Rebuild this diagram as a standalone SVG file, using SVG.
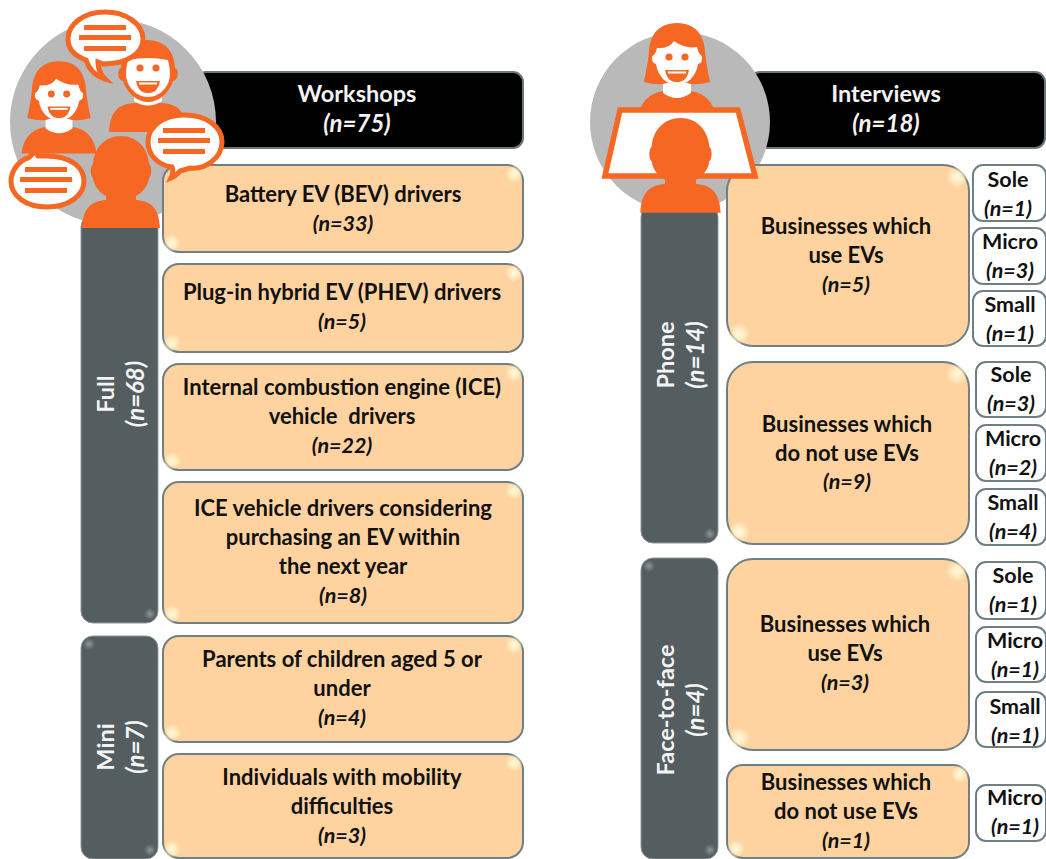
<svg xmlns="http://www.w3.org/2000/svg" xmlns:xlink="http://www.w3.org/1999/xlink" width="1046" height="859" viewBox="0 0 1046 859">
<style>
text{font-family:"Lato","Liberation Sans",sans-serif;font-weight:700;font-size:22px;text-anchor:middle;fill:#111}
.i{font-style:italic;font-size:21.500px}
.s{font-size:21.500px}
text.w{fill:#f4f4f4;font-size:23.500px}
text.i.w{font-size:24px}
.w{fill:#fff}
.peach{fill:#fed3a0;stroke:#6f7f83;stroke-width:2}
.grey{fill:#545e61;stroke:#8d9799;stroke-width:1}
.head{fill:#000;stroke:#6b777c;stroke-width:2}
.small{fill:#fff;stroke:#6f7f83;stroke-width:2}
.o{fill:#f56722}
.bub{fill:#fff;stroke:#f56722;stroke-width:5}
.disc{fill:#b9b9b9}
.g{fill:url(#glow)}
.gg{fill:url(#gglow)}
</style>
<defs>
<radialGradient id="glow"><stop offset="0" stop-color="#fffbe0"/><stop offset=".45" stop-color="#fff4cc" stop-opacity=".8"/><stop offset="1" stop-color="#fff4cc" stop-opacity="0"/></radialGradient>
<radialGradient id="gglow"><stop offset="0" stop-color="#8d9799"/><stop offset="1" stop-color="#8d9799" stop-opacity="0"/></radialGradient>
<g id="woman">
<path class="o" d="M-39 62C-37 44-27 36-13 34H13C27 36 37 44 39 62Z"/>
<path class="w" d="M-14 26H14V36Q0 46-14 36Z"/>
<path class="o" d="M0 -34C-20 -34-27 -20-28 -6C-29 6-31 14-33 25Q-18 29-10 26H10Q18 29 33 25C31 14 29 6 28 -6C27 -20 20 -34 0 -34Z"/>
<path class="w" d="M-20 -9Q-8 -8-3 -16Q8 -8 20 -10Q22 -2 25 -1Q26 6 21 7C19 20 10 28 0 28C-10 28-19 20-21 7C-26 6-26 -2-23 -2Q-21 -4-20 -9Z"/>
<circle class="o" cx="-8" cy="0" r="3.600"/><circle class="o" cx="8" cy="0" r="3.600"/>
<path class="o" d="M-12 13H12C10 24 4 25 0 25C-4 25-10 24-12 13Z"/>
<path class="w" d="M-9 14.500H9V16.500H-9Z"/>
</g>
<g id="man">
<path class="o" d="M-39 64C-38 44-30 36-14 35H14C30 36 38 44 39 64Z"/>
<path class="w" d="M-14 26H14V33Q0 42-14 33Z"/>
<path class="o" d="M0 -28C-18 -28-27 -14-27 0C-31 1-31 12-25 13C-21 26-10 34 0 34C10 34 21 26 25 13C31 12 31 1 27 0C27 -14 18 -28 0 -28Z"/>
<path class="w" d="M-20 -8Q0 -12 20 -8Q22 0 22 6C22 18 12 29 0 29C-12 29-22 18-22 6Q-22 0-20 -8Z"/>
<circle class="o" cx="-8" cy="0" r="3.600"/><circle class="o" cx="8" cy="0" r="3.600"/>
<path class="o" d="M-12 13H12C10 24 4 25 0 25C-4 25-10 24-12 13Z"/>
<path class="w" d="M-9 14.500H9V16.500H-9Z"/>
</g>
<g id="sil">
<path class="o" d="M0 0C-16 0-27 12-28 28C-31 30-31 40-28 42C-27 50-22 56-15 60V64C-30 65-38 72-39 92H39C38 72 30 65 15 64V60C22 56 27 50 28 42C31 40 31 30 28 28C27 12 16 0 0 0Z"/>
</g>
<g id="lines">
<path class="o" d="M-21 -13H21V-8H-21ZM-26 -3H26V2H-26ZM-21 8H21V13H-21Z"/>
</g>
</defs>
<g id="connectors"/>
<g id="workshops-head"><rect class="head" x="196" y="72" width="327" height="76" rx="10"/><text class="w" x="357" y="102">Workshops</text><text class="w i" x="357" y="132">(n=75)</text></g>
<g id="interviews-head"><rect class="head" x="750" y="72" width="295" height="76" rx="10"/><text class="w" x="886" y="102">Interviews</text><text class="w i" x="886" y="132">(n=18)</text></g>
<circle id="workshops-disc" class="disc" cx="113" cy="122" r="103"/>
<circle id="interviews-disc" class="disc" cx="680" cy="122" r="90"/>
<g id="full"><rect class="grey" x="81" y="215" width="77" height="408" rx="12"/><circle class="gg" cx="150" cy="614" r="6"/><text class="w" transform="translate(114,394) rotate(-90)">Full</text><text class="w i" transform="translate(144,394) rotate(-90)">(n=68)</text></g>
<g id="mini"><rect class="grey" x="81" y="636" width="77" height="223" rx="12"/><circle class="gg" cx="89" cy="644" r="6"/><circle class="gg" cx="150" cy="850" r="6"/><text class="w" transform="translate(114,747) rotate(-90)">Mini</text><text class="w i" transform="translate(144,747) rotate(-90)">(n=7)</text></g>
<g id="phone"><rect class="grey" x="641" y="205" width="77" height="338" rx="12"/><circle class="gg" cx="710" cy="534" r="6"/><text class="w" transform="translate(674,355) rotate(-90)">Phone</text><text class="w i" transform="translate(704,355) rotate(-90)">(n=14)</text></g>
<g id="f2f"><rect class="grey" x="641" y="558" width="77" height="301" rx="12"/><circle class="gg" cx="649" cy="566" r="6"/><circle class="gg" cx="710" cy="850" r="6"/><text class="w" transform="translate(674,710) rotate(-90)">Face-to-face</text><text class="w i" transform="translate(704,710) rotate(-90)">(n=4)</text></g>
<g id="bev"><rect class="peach" x="163" y="165" width="360" height="87" rx="16"/><circle class="g" cx="172" cy="243" r="9"/><circle class="g" cx="514" cy="174" r="9"/><text x="343" y="202">Battery EV (BEV) drivers</text><text class="i" x="343" y="231">(n=33)</text></g>
<g id="phev"><rect class="peach" x="163" y="264" width="360" height="88" rx="16"/><circle class="g" cx="172" cy="343" r="9"/><circle class="g" cx="514" cy="273" r="9"/><text x="342" y="300">Plug-in hybrid EV (PHEV) drivers</text><text class="i" x="342" y="329">(n=5)</text></g>
<g id="ice"><rect class="peach" x="163" y="364" width="360" height="106" rx="16"/><circle class="g" cx="172" cy="461" r="9"/><circle class="g" cx="514" cy="373" r="9"/><text x="342" y="395">Internal combustion engine (ICE)</text><text x="342" y="424" xml:space="preserve">vehicle  drivers</text><text class="i" x="342" y="453">(n=22)</text></g>
<g id="ice2"><rect class="peach" x="163" y="482" width="360" height="141" rx="16"/><circle class="g" cx="172" cy="614" r="9"/><circle class="g" cx="514" cy="491" r="9"/><text x="343" y="516">ICE vehicle drivers considering</text><text x="343" y="545">purchasing an EV within</text><text x="343" y="574">the next year</text><text class="i" x="343" y="603">(n=8)</text></g>
<g id="parents"><rect class="peach" x="163" y="636" width="360" height="106" rx="16"/><circle class="g" cx="172" cy="733" r="9"/><circle class="g" cx="514" cy="645" r="9"/><text x="342" y="667">Parents of children aged 5 or</text><text x="342" y="696">under</text><text class="i" x="342" y="725">(n=4)</text></g>
<g id="mobility"><rect class="peach" x="163" y="754" width="360" height="104" rx="16"/><circle class="g" cx="172" cy="849" r="9"/><circle class="g" cx="514" cy="763" r="9"/><text x="342" y="785">Individuals with mobility</text><text x="342" y="814">difficulties</text><text class="i" x="342" y="843">(n=3)</text></g>
<g id="p-use"><rect class="peach" x="727" y="165" width="242" height="181" rx="26"/><circle class="g" cx="739" cy="334" r="11"/><circle class="g" cx="957" cy="177" r="11"/><text x="846" y="234">Businesses which</text><text x="846" y="263">use EVs</text><text class="i" x="846" y="292">(n=5)</text></g>
<g id="p-not"><rect class="peach" x="727" y="362" width="242" height="182" rx="26"/><circle class="g" cx="739" cy="532" r="11"/><circle class="g" cx="957" cy="374" r="11"/><text x="847" y="432">Businesses which</text><text x="847" y="461">do not use EVs</text><text class="i" x="847" y="489">(n=9)</text></g>
<g id="f-use"><rect class="peach" x="727" y="559" width="242" height="191" rx="26"/><circle class="g" cx="739" cy="738" r="11"/><circle class="g" cx="957" cy="571" r="11"/><text x="845" y="632">Businesses which</text><text x="845" y="661">use EVs</text><text class="i" x="845" y="690">(n=3)</text></g>
<g id="f-not"><rect class="peach" x="727" y="765" width="242" height="93" rx="16"/><circle class="g" cx="736" cy="849" r="9"/><circle class="g" cx="960" cy="774" r="9"/><text x="846" y="790">Businesses which</text><text x="846" y="819">do not use EVs</text><text class="i" x="846" y="848">(n=1)</text></g>
<g id="s1"><rect class="small" x="973" y="165" width="73" height="56" rx="10"/><text class="s" x="1008" y="187">Sole</text><text class="i" x="1008" y="216">(n=1)</text></g>
<g id="s2"><rect class="small" x="973" y="228" width="73" height="56" rx="10"/><text class="s" x="1010" y="249">Micro</text><text class="i" x="1010" y="278">(n=3)</text></g>
<g id="s3"><rect class="small" x="973" y="291" width="73" height="55" rx="10"/><text class="s" x="1010" y="312">Small</text><text class="i" x="1010" y="341">(n=1)</text></g>
<g id="s4"><rect class="small" x="976" y="362" width="70" height="55" rx="10"/><text class="s" x="1011" y="382">Sole</text><text class="i" x="1011" y="411">(n=3)</text></g>
<g id="s5"><rect class="small" x="976" y="425" width="70" height="56" rx="10"/><text class="s" x="1013" y="446">Micro</text><text class="i" x="1013" y="475">(n=2)</text></g>
<g id="s6"><rect class="small" x="976" y="489" width="70" height="56" rx="10"/><text class="s" x="1013" y="510">Small</text><text class="i" x="1013" y="539">(n=4)</text></g>
<g id="s7"><rect class="small" x="976" y="562" width="70" height="57" rx="10"/><text class="s" x="1013" y="583">Sole</text><text class="i" x="1013" y="612">(n=1)</text></g>
<g id="s8"><rect class="small" x="976" y="627" width="70" height="55" rx="10"/><text class="s" x="1015" y="648">Micro</text><text class="i" x="1015" y="677">(n=1)</text></g>
<g id="s9"><rect class="small" x="976" y="692" width="70" height="55" rx="10"/><text class="s" x="1015" y="714">Small</text><text class="i" x="1015" y="743">(n=1)</text></g>
<g id="s10"><rect class="small" x="976" y="785" width="70" height="56" rx="10"/><text class="s" x="1015" y="805">Micro</text><text class="i" x="1015" y="834">(n=1)</text></g>
<g id="workshops-icon">
<use href="#woman" xlink:href="#woman" transform="translate(59,94) scale(.96)"/>
<use href="#man" xlink:href="#man" transform="translate(148,68)"/>
<path class="bub" d="M105 12C126 12 143 24 143 39C143 54 126 64 103 64L98 62Q98 72 105 79Q91 75 86 60C75 56 68 49 68 39C68 24 84 12 105 12Z"/>
<use href="#lines" xlink:href="#lines" transform="translate(105,38)"/>
<path class="bub" d="M184 115C207 115 222 127 222 142C222 158 205 170 190 168L180 171Q176 176 171 178Q174 172 172 167C158 165 148 155 148 142C148 127 163 115 184 115Z"/>
<use href="#lines" xlink:href="#lines" transform="translate(184,141)"/>
<path class="bub" d="M47 156C70 156 84 167 84 181C84 196 68 207 47 207C26 207 11 196 11 181C11 170 20 160 28 158Q32 156 34 150Q36 154 38 156Z"/>
<use href="#lines" xlink:href="#lines" transform="translate(46,180)"/>
<use href="#sil" xlink:href="#sil" transform="translate(121,136)"/>
</g>
<g id="interviews-icon">
<use href="#woman" xlink:href="#woman" transform="translate(677,57)"/>
<path d="M620 110H738L755 176H605Z" fill="#fff" stroke="#f56722" stroke-width="5.500"/>
<use href="#sil" xlink:href="#sil" transform="translate(680.500,118) scale(1.03,1.03)"/>
</g>
</svg>
